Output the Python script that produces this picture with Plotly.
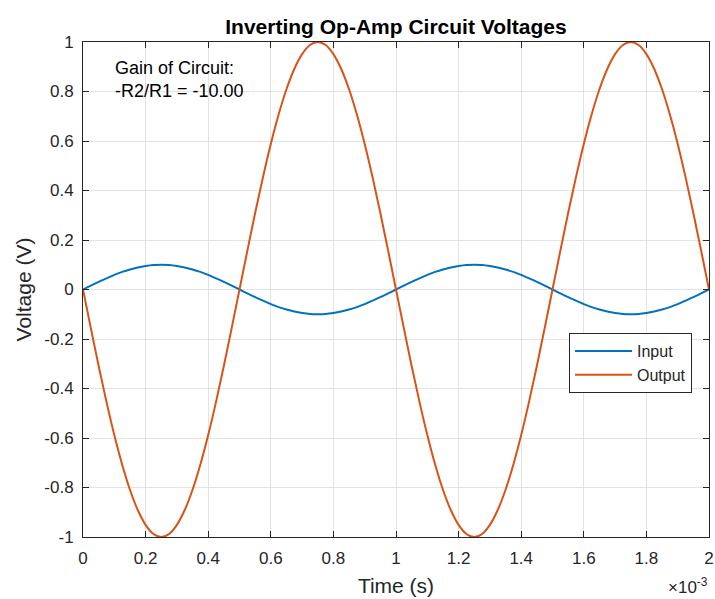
import plotly.graph_objects as go

# Time in milliseconds (axis shows x 10^-3 s)
time_ms = [round(k * 0.025, 3) for k in range(81)]

input_v = [
    0.000, 0.016, 0.031, 0.045, 0.059, 0.071, 0.081, 0.089, 0.095, 0.099,
    0.100, 0.099, 0.095, 0.089, 0.081, 0.071, 0.059, 0.045, 0.031, 0.016,
    0.000, -0.016, -0.031, -0.045, -0.059, -0.071, -0.081, -0.089, -0.095, -0.099,
    -0.100, -0.099, -0.095, -0.089, -0.081, -0.071, -0.059, -0.045, -0.031, -0.016,
    0.000, 0.016, 0.031, 0.045, 0.059, 0.071, 0.081, 0.089, 0.095, 0.099,
    0.100, 0.099, 0.095, 0.089, 0.081, 0.071, 0.059, 0.045, 0.031, 0.016,
    0.000, -0.016, -0.031, -0.045, -0.059, -0.071, -0.081, -0.089, -0.095, -0.099,
    -0.100, -0.099, -0.095, -0.089, -0.081, -0.071, -0.059, -0.045, -0.031, -0.016,
    0.000,
]

output_v = [
    0.000, -0.156, -0.309, -0.454, -0.588, -0.707, -0.809, -0.891, -0.951, -0.988,
    -1.000, -0.988, -0.951, -0.891, -0.809, -0.707, -0.588, -0.454, -0.309, -0.156,
    0.000, 0.156, 0.309, 0.454, 0.588, 0.707, 0.809, 0.891, 0.951, 0.988,
    1.000, 0.988, 0.951, 0.891, 0.809, 0.707, 0.588, 0.454, 0.309, 0.156,
    0.000, -0.156, -0.309, -0.454, -0.588, -0.707, -0.809, -0.891, -0.951, -0.988,
    -1.000, -0.988, -0.951, -0.891, -0.809, -0.707, -0.588, -0.454, -0.309, -0.156,
    0.000, 0.156, 0.309, 0.454, 0.588, 0.707, 0.809, 0.891, 0.951, 0.988,
    1.000, 0.988, 0.951, 0.891, 0.809, 0.707, 0.588, 0.454, 0.309, 0.156,
    0.000,
]

x_ticks = [0, 0.2, 0.4, 0.6, 0.8, 1.0, 1.2, 1.4, 1.6, 1.8, 2.0]
x_ticktext = ["0", "0.2", "0.4", "0.6", "0.8", "1", "1.2", "1.4", "1.6", "1.8", "2"]
y_ticks = [1, 0.8, 0.6, 0.4, 0.2, 0, -0.2, -0.4, -0.6, -0.8, -1]
y_ticktext = ["1", "0.8", "0.6", "0.4", "0.2", "0", "-0.2", "-0.4", "-0.6", "-0.8", "-1"]

FONT = "Liberation Sans, Arial, Helvetica, sans-serif"
AXC = "#262626"

W, H = 715, 599
L, R, T, B = 83, 6, 42, 62

fig = go.Figure()
fig.add_trace(go.Scatter(x=time_ms, y=input_v, mode="lines", name="Input",
                         line=dict(color="#0072BD", width=2, shape="spline")))
fig.add_trace(go.Scatter(x=time_ms, y=output_v, mode="lines", name="Output",
                         line=dict(color="#D95319", width=2, shape="spline")))

axis_common = dict(showline=True, linecolor=AXC, linewidth=1, mirror="ticks",
                   ticks="inside", ticklen=6, tickcolor=AXC, automargin=False,
                   showgrid=True, gridcolor="#e3e3e3", gridwidth=1,
                   zeroline=False, tickfont=dict(family=FONT, size=17, color=AXC))

fig.update_layout(
    width=W, height=H,
    margin=dict(l=L, r=R, t=T, b=B),
    paper_bgcolor="white", plot_bgcolor="white",
    title=dict(text="<b>Inverting Op-Amp Circuit Voltages</b>",
               x=(L + (W - R)) / 2 / W, xanchor="center",
               y=1 - 27 / H, yanchor="middle", automargin=False,
               font=dict(family=FONT, size=21, color="#000000")),
    xaxis=dict(range=[0, 2], tickvals=x_ticks, ticktext=x_ticktext, ticklabelstandoff=6,
               title=dict(text="Time (s)", font=dict(family=FONT, size=21, color=AXC), standoff=10),
               **axis_common),
    yaxis=dict(range=[-1, 1], tickvals=y_ticks, ticktext=y_ticktext, ticklabelstandoff=5,
               title=dict(text="Voltage (V)", font=dict(family=FONT, size=21, color=AXC), standoff=6),
               **axis_common),
    legend=dict(x=(569 - 83) / 626, y=(537 - 333) / 495, xanchor="left", yanchor="top",
                bgcolor="white", bordercolor="#262626", borderwidth=1, itemwidth=57,
                font=dict(family=FONT, size=16, color=AXC), tracegroupgap=0),
    showlegend=True,
)

fig.add_annotation(x=0.097, y=0.945, xref="x", yref="y", xanchor="left", yanchor="top",
                   text="Gain of Circuit:<br>-R2/R1 = -10.00", showarrow=False, align="left",
                   font=dict(family=FONT, size=18, color="#000000"))

fig.add_annotation(x=1, y=0, xref="paper", yref="paper", xanchor="right", yanchor="middle",
                   xshift=1, yshift=-49, text="×10<sup>-3</sup>", showarrow=False,
                   font=dict(family=FONT, size=17, color=AXC))

# remove the default 8px body margin so the figure fills the 715x599 window exactly
fig.write_html("out.html", config={"displayModeBar": False},
               post_script="document.body.style.margin='0';")
